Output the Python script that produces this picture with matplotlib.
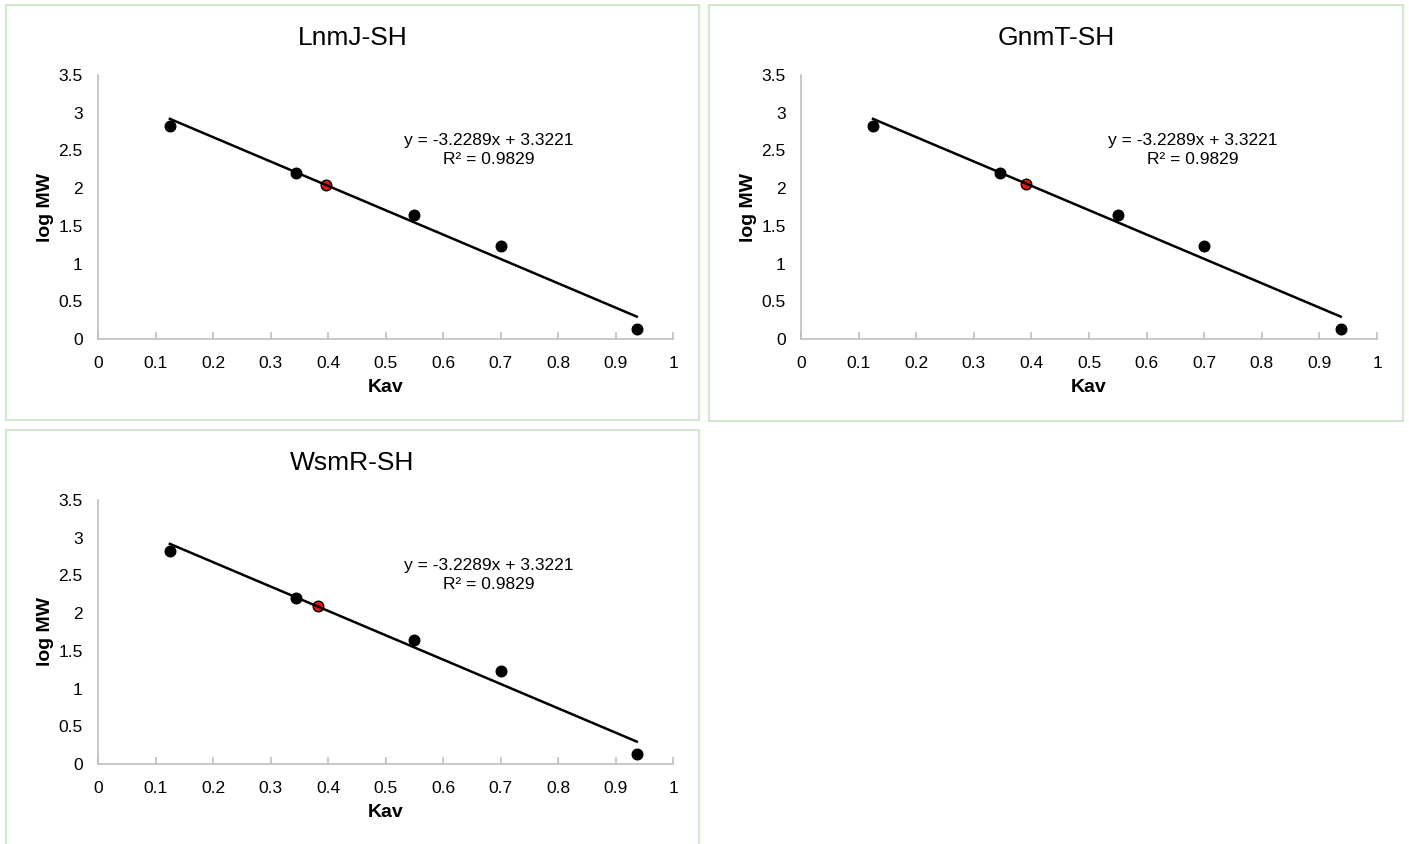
import matplotlib.pyplot as plt
from matplotlib.patches import Rectangle

plt.rcParams['font.family'] = ['Liberation Sans', 'DejaVu Sans']

# standards (calibration curve)
kav = [0.125, 0.345, 0.55, 0.70, 0.937]
log_mw = [2.83, 2.20, 1.65, 1.23, 0.13]

# fitted trendline
slope = -3.2289
intercept = 3.3221
r2 = 0.9829

# samples
titles = ['LnmJ-SH', 'GnmT-SH', 'WsmR-SH']
sample_kav = [0.396, 0.390, 0.383]
sample_log_mw = [2.04, 2.06, 2.09]

x_ticks = [0, 0.1, 0.2, 0.3, 0.4, 0.5, 0.6, 0.7, 0.8, 0.9, 1]
x_tick_labels = ['0', '0.1', '0.2', '0.3', '0.4', '0.5', '0.6', '0.7', '0.8', '0.9', '1']
y_ticks = [0, 0.5, 1, 1.5, 2, 2.5, 3, 3.5]
y_tick_labels = ['0', '0.5', '1', '1.5', '2', '2.5', '3', '3.5']

W, H = 1409, 844
fig = plt.figure(figsize=(W / 100, H / 100), dpi=100)

# panel boxes and axes in pixels: (box left, box top, box right, box bottom), (ax left, ax top, ax right, ax bottom)
panels = [
    ((6, 5, 699, 420), (98, 75, 673, 339)),
    ((709, 5, 1403, 421), (801, 75, 1377, 339)),
    ((6, 430, 699, 860), (98, 500, 673, 764)),
]

grey = '#bfbfbf'
for i, (box, axp) in enumerate(panels):
    bx0, by0, bx1, by1 = box
    fig.patches.append(Rectangle((bx0 / W, 1 - by1 / H), (bx1 - bx0) / W, (by1 - by0) / H,
                                 transform=fig.transFigure, fill=False,
                                 edgecolor='#d3e7cd', linewidth=1.5))
    x0, y0, x1, y1 = axp
    ax = fig.add_axes([x0 / W, 1 - y1 / H, (x1 - x0) / W, (y1 - y0) / H])

    xs = [min(kav), max(kav)]
    ax.plot(xs, [slope * x + intercept for x in xs], color='black', lw=1.8, zorder=4)
    ax.scatter(kav, log_mw, s=58, color='black', zorder=3)
    ax.scatter([sample_kav[i]], [sample_log_mw[i]], s=58, color='#e8150f',
               edgecolors='black', linewidths=1.0, zorder=3)

    ax.set_xlim(0, 1)
    ax.set_ylim(0, 3.5)
    ax.set_xticks(x_ticks, x_tick_labels)
    ax.set_yticks(y_ticks, y_tick_labels)
    for s in ['top', 'right']:
        ax.spines[s].set_visible(False)
    for s in ['left', 'bottom']:
        ax.spines[s].set_color(grey)
        ax.spines[s].set_linewidth(1.2)
    ax.tick_params(axis='x', direction='in', length=5, color=grey, width=1.2,
                   labelsize=12.5, pad=12)
    ax.tick_params(axis='y', length=0, labelsize=12.5, pad=11)
    ax.set_xlabel('Kav', fontsize=14, fontweight='bold', labelpad=6)
    ax.set_ylabel('log MW', fontsize=14, fontweight='bold', labelpad=3)

    ax.text(0.68, 2.505, f'y = {slope}x + {intercept}\nR\u00b2 = {r2}', ha='center',
            va='center', multialignment='center', fontsize=12.5, linespacing=1.3)

    fig.text((bx0 + bx1) / 2 / W, 1 - (by0 + 33) / H, titles[i], ha='center',
             va='center', fontsize=19)

fig.savefig('out.png', dpi=100)
